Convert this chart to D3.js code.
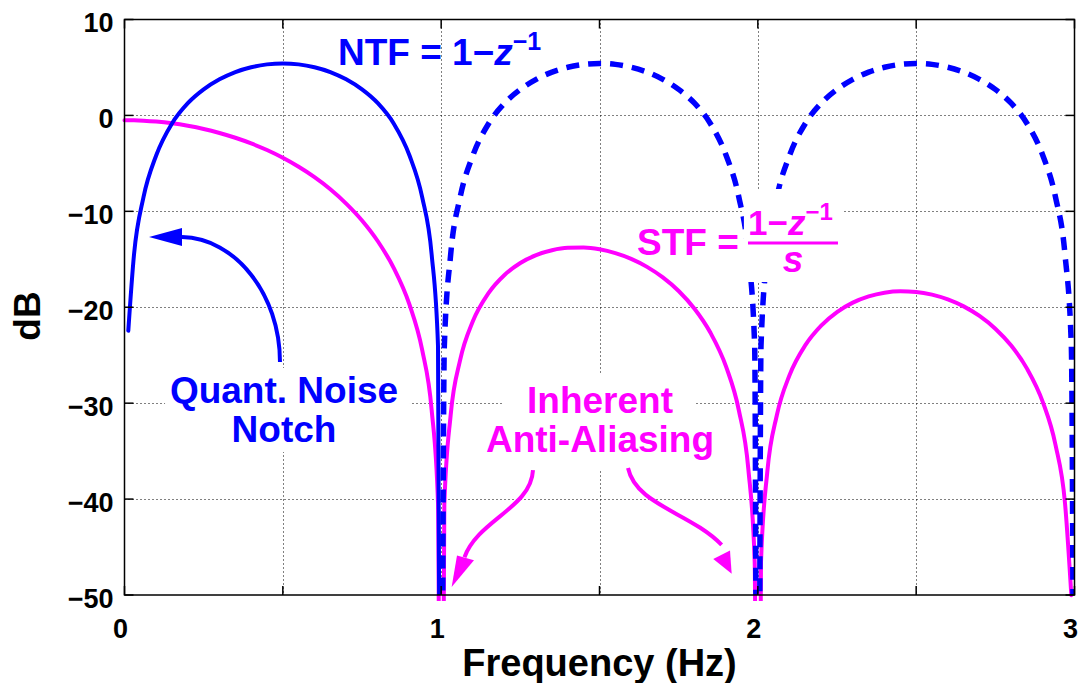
<!DOCTYPE html>
<html><head><meta charset="utf-8">
<script src="https://cdn.jsdelivr.net/npm/d3@7"></script>
<style>
html,body{margin:0;padding:0;background:#fff;}
svg{display:block;}
text{font-family:"Liberation Sans",Arial,Helvetica,sans-serif;font-weight:bold;}
</style></head><body>
<svg id="chart" width="1080" height="683"></svg>
<script>
// ---- data ----
const freq = [
  0, 0.012, 0.03, 0.06, 0.1, 0.15, 0.2, 0.25, 0.3, 0.35, 0.4, 0.45, 0.5, 0.55, 0.6, 0.65, 0.7, 0.75, 0.8, 0.85, 0.9, 0.94, 0.97, 0.99,
  1, 1.01, 1.03, 1.06, 1.1, 1.15, 1.2, 1.25, 1.3, 1.35, 1.4, 1.45, 1.5, 1.55, 1.6, 1.65, 1.7, 1.75, 1.8, 1.85, 1.9, 1.94, 1.97, 1.99,
  2, 2.01, 2.03, 2.06, 2.1, 2.15, 2.2, 2.25, 2.3, 2.35, 2.4, 2.45, 2.5, 2.55, 2.6, 2.65, 2.7, 2.75, 2.8, 2.85, 2.9, 2.94, 2.97, 2.99, 3
];
const ntfDb = [
  null, -22.45, -14.51, -8.52, -4.18, -0.84, 1.27, 2.71, 3.76, 4.52, 5.02, 5.32, 5.42, 5.32, 5.02, 4.52, 3.76, 2.71, 1.27, -0.84, -4.18, -8.52, -14.51, -24.04,
  -100, -24.04, -14.51, -8.52, -4.18, -0.84, 1.27, 2.71, 3.76, 4.52, 5.02, 5.32, 5.42, 5.32, 5.02, 4.52, 3.76, 2.71, 1.27, -0.84, -4.18, -8.52, -14.51, -24.04,
  -100, -24.04, -14.51, -8.52, -4.18, -0.84, 1.27, 2.71, 3.76, 4.52, 5.02, 5.32, 5.42, 5.32, 5.02, 4.52, 3.76, 2.71, 1.27, -0.84, -4.18, -8.52, -14.51, -24.04, -100
];
const stfDb = [
  -0.50, -0.50, -0.51, -0.55, -0.64, -0.82, -1.08, -1.41, -1.83, -2.33, -2.92, -3.61, -4.42, -5.36, -6.44, -7.70, -9.19, -10.95, -13.12, -15.89, -19.73, -24.45, -30.71, -40.41,
  -100, -40.59, -31.23, -25.49, -21.47, -18.51, -16.64, -15.39, -14.56, -14.05, -13.80, -13.78, -13.96, -14.36, -14.96, -15.79, -16.89, -18.31, -20.16, -22.64, -26.22, -30.74, -36.86, -46.48,
  -100, -46.57, -37.12, -31.26, -27.09, -23.95, -21.91, -20.50, -19.52, -18.87, -18.48, -18.33, -18.40, -18.68, -19.18, -19.91, -20.91, -22.24, -24.00, -26.40, -29.89, -34.35, -40.42, -50.02, null
];
const xTicks = [0, 0.5, 1, 1.5, 2, 2.5, 3];
const xTickLabels = ["0", "", "1", "", "2", "", "3"];
const yTicks = [10, 0, -10, -20, -30, -40, -50];
const yTickLabels = ["10", "0", "\u221210", "\u221220", "\u221230", "\u221240", "\u221250"];

// ---- layout ----
const BLUE = "#0000ff", MAG = "#ff00ff";
const L = 124.5, R = 1074.5, T = 19.5, B = 595;
const svg = d3.select("#chart");
const x = d3.scaleLinear().domain([0, 3]).range([L, R]);
const y = d3.scaleLinear().domain([-50, 10]).range([B, T]);

// grid
const grid = svg.append("g").attr("stroke", "#000").attr("stroke-width", 1).attr("stroke-dasharray", "1,3");
grid.selectAll("line.gx").data(xTicks.filter(t => t > 0 && t < 3)).join("line")
  .attr("x1", d => Math.round(x(d)) + 0.5).attr("x2", d => Math.round(x(d)) + 0.5)
  .attr("y1", T).attr("y2", B);
grid.selectAll("line.gy").data(yTicks.filter(t => t < 10 && t > -50)).join("line")
  .attr("y1", d => Math.round(y(d)) + 0.5).attr("y2", d => Math.round(y(d)) + 0.5)
  .attr("x1", L).attr("x2", R);

// clip
const defs = svg.append("defs");
defs.append("clipPath").attr("id", "clipN").append("rect").attr("x", L).attr("y", T).attr("width", R - L).attr("height", B - T);
defs.append("clipPath").attr("id", "clipS").append("rect").attr("x", L - 4).attr("y", T).attr("width", R - L + 8).attr("height", B - T + 6);

const pts = freq.map((f, i) => ({ f, ntf: ntfDb[i], stf: stfDb[i] }));
const lineN = d3.line().defined(d => d.ntf !== null).x(d => x(d.f)).y(d => y(d.ntf)).curve(d3.curveMonotoneX);
const lineS = d3.line().defined(d => d.stf !== null).x(d => x(d.f)).y(d => y(d.stf)).curve(d3.curveMonotoneX);

const curves = svg.append("g");
curves.append("path").attr("clip-path", "url(#clipS)")
  .attr("d", lineS(pts)).attr("fill", "none").attr("stroke", MAG).attr("stroke-width", 4).attr("stroke-linecap", "round").attr("stroke-linejoin", "round");
curves.append("path").attr("clip-path", "url(#clipN)")
  .attr("d", lineN(pts.filter(d => d.f <= 1))).attr("fill", "none").attr("stroke", BLUE).attr("stroke-width", 4).attr("stroke-linecap", "round").attr("stroke-linejoin", "round");
curves.append("path").attr("clip-path", "url(#clipN)")
  .attr("d", lineN(pts.filter(d => d.f >= 1))).attr("fill", "none").attr("stroke", BLUE).attr("stroke-width", 5.5).attr("stroke-dasharray", "13,9");

// white label backgrounds (data units)
const boxes = [
  { f0: 1.956, f1: 2.269, d0: -7.67, d1: -17.37 },
  { f0: 0.128, f1: 0.9015, d0: -26.33, d1: -35.09 },
  { f0: 1.1953, f1: 1.8016, d0: -26.96, d1: -36.97 }
];
svg.append("g").selectAll("rect").data(boxes).join("rect")
  .attr("x", d => x(d.f0)).attr("y", d => y(d.d0))
  .attr("width", d => x(d.f1) - x(d.f0)).attr("height", d => y(d.d1) - y(d.d0))
  .attr("fill", "#fff");

// axes box and ticks
const ax = svg.append("g");
ax.append("rect").attr("x", L).attr("y", T).attr("width", R - L).attr("height", B - T)
  .attr("fill", "none").attr("stroke", "#000").attr("stroke-width", 1.5);
const tk = ax.append("g").attr("stroke", "#000").attr("stroke-width", 1.5);
xTicks.forEach(t => {
  tk.append("line").attr("x1", x(t)).attr("x2", x(t)).attr("y1", B).attr("y2", B - 9);
  tk.append("line").attr("x1", x(t)).attr("x2", x(t)).attr("y1", T).attr("y2", T + 9);
});
yTicks.forEach(t => {
  tk.append("line").attr("y1", y(t)).attr("y2", y(t)).attr("x1", L).attr("x2", L + 9);
  tk.append("line").attr("y1", y(t)).attr("y2", y(t)).attr("x1", R).attr("x2", R - 9);
});
ax.append("g").selectAll("text").data(yTicks).join("text")
  .attr("x", L - 11).attr("y", d => y(d) + 12.5).attr("text-anchor", "end")
  .attr("font-size", 27).attr("fill", "#000").text((d, i) => yTickLabels[i]);
ax.append("g").selectAll("text").data(xTicks).join("text")
  .attr("x", d => x(d) - 4).attr("y", B + 43).attr("text-anchor", "middle")
  .attr("font-size", 27).attr("fill", "#000").text((d, i) => xTickLabels[i]);

svg.append("text").attr("x", (L + R) / 2).attr("y", 676).attr("text-anchor", "middle")
  .attr("font-size", 38).attr("fill", "#000").text("Frequency (Hz)");
svg.append("text").attr("transform", "translate(40,316) rotate(-90)").attr("text-anchor", "middle")
  .attr("font-size", 37).attr("fill", "#000").text("dB");

// ---- annotations ----
// NTF label
const ntfT = svg.append("text").attr("x", x(0.6742)).attr("y", y(5.254)).attr("font-size", 37).attr("fill", BLUE);
ntfT.append("tspan").text("NTF = 1\u2212");
ntfT.append("tspan").attr("font-style", "italic").text("z");
ntfT.append("tspan").attr("dy", -15).attr("font-size", 25).text("\u22121");

// STF label
svg.append("text").attr("x", x(1.6184)).attr("y", y(-14.55)).attr("font-size", 37).attr("fill", MAG).text("STF =");
const num = svg.append("text").attr("x", x(1.9689)).attr("y", y(-12.47)).attr("font-size", 35).attr("fill", MAG);
num.append("tspan").text("1\u2212");
num.append("tspan").attr("font-style", "italic").text("z");
num.append("tspan").attr("dy", -15).attr("font-size", 24).text("\u22121");
svg.append("line").attr("x1", x(1.9689)).attr("x2", x(2.2531)).attr("y1", y(-13.30)).attr("y2", y(-13.30))
  .attr("stroke", MAG).attr("stroke-width", 3);
svg.append("text").attr("x", x(2.111)).attr("y", y(-16.33)).attr("text-anchor", "middle").attr("font-size", 37)
  .attr("font-style", "italic").attr("fill", MAG).text("s");

// multi-line labels
function label(lines, fx, dys, color) {
  const t = svg.append("text").attr("text-anchor", "middle").attr("font-size", 37).attr("fill", color);
  lines.forEach((s, i) => t.append("tspan").attr("x", x(fx)).attr("y", y(dys[i])).text(s));
}
label(["Quant. Noise", "Notch"], 0.5037, [-29.99, -34.06], BLUE);
label(["Inherent", "Anti-Aliasing"], 1.5016, [-31.03, -35.09], MAG);

// arrows (data units)
const arrows = [
  { c: BLUE, p: [[0.4910, -25.71], [0.4910, -18.62], [0.3490, -12.78], [0.1816, -12.68]],
    head: [[0.0774, -12.68], [0.1816, -11.74], [0.1816, -13.62]] },
  { c: MAG, p: [[1.2900, -36.97], [1.2837, -40.93], [1.1163, -42.18], [1.0736, -46.06]],
    head: [[1.0331, -49.17], [1.0500, -45.87], [1.1036, -46.39]] },
  { c: MAG, p: [[1.5900, -36.76], [1.6152, -40.62], [1.7858, -41.39], [1.8857, -44.77]],
    head: [[1.9174, -47.79], [1.8592, -46.25], [1.9121, -45.37]] }
];
arrows.forEach(a => {
  const P = a.p.map(q => [x(q[0]), y(q[1])]);
  const path = d3.path();
  path.moveTo(P[0][0], P[0][1]);
  path.bezierCurveTo(P[1][0], P[1][1], P[2][0], P[2][1], P[3][0], P[3][1]);
  svg.append("path").attr("d", path.toString()).attr("fill", "none").attr("stroke", a.c).attr("stroke-width", 4);
  svg.append("polygon").attr("points", a.head.map(q => [x(q[0]), y(q[1])].join(",")).join(" ")).attr("fill", a.c);
});
</script>
</body></html>
